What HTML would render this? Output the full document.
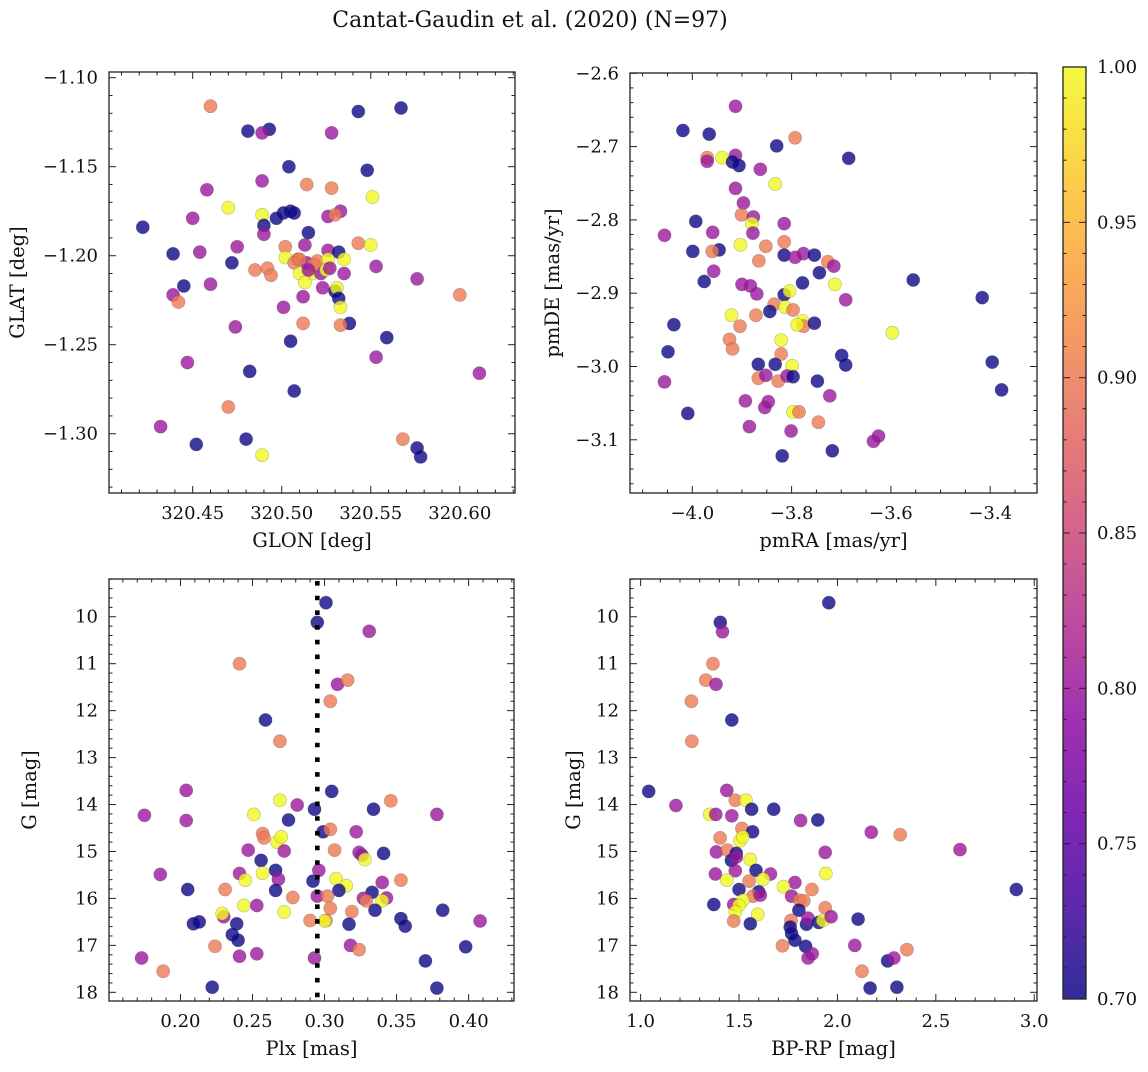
<!DOCTYPE html>
<html><head><meta charset="utf-8">
<style>
html,body{margin:0;padding:0;background:#fff;}
svg text{font-family:"DejaVu Serif","Liberation Serif",serif;fill:#111;}
</style></head>
<body>
<svg id="fig" width="1148" height="1067" viewBox="0 0 1148 1067" xmlns="http://www.w3.org/2000/svg">
<rect width="1148" height="1067" fill="#fff"/>
<text x="530" y="27" font-size="22" text-anchor="middle">Cantat-Gaudin et al. (2020) (N=97)</text>
<defs>
<linearGradient id="plasma" x1="0" y1="1" x2="0" y2="0">
<stop offset="0" stop-color="#0d0887"/><stop offset="0.1" stop-color="#41049d"/><stop offset="0.2" stop-color="#6a00a8"/><stop offset="0.3" stop-color="#8f0da4"/><stop offset="0.4" stop-color="#b12a90"/><stop offset="0.5" stop-color="#cc4778"/><stop offset="0.6" stop-color="#e16462"/><stop offset="0.7" stop-color="#f2844b"/><stop offset="0.8" stop-color="#fca636"/><stop offset="0.9" stop-color="#fcce25"/><stop offset="1" stop-color="#f0f921"/>
</linearGradient>
</defs>
</svg>
<script>
// ---- Panel 1: GLON vs GLAT ----
const glonX=[320.460,320.543,320.567,320.481,320.493,320.489,320.528,320.504,320.548,320.489,320.514,320.528,320.458,320.551,320.470,320.450,320.489,320.505,320.501,320.507,320.497,320.526,320.533,320.530,320.422,320.490,320.490,320.515,320.475,320.502,320.513,320.543,320.550,320.439,320.454,320.526,320.532,320.502,320.509,320.507,320.514,320.520,320.526,320.535,320.472,320.485,320.492,320.494,320.510,320.517,320.522,320.525,320.535,320.553,320.576,320.445,320.460,320.513,320.523,320.530,320.531,320.532,320.439,320.442,320.600,320.512,320.533,320.501,320.512,320.538,320.533,320.474,320.559,320.505,320.553,320.447,320.482,320.611,320.507,320.470,320.432,320.480,320.568,320.452,320.489,320.576,320.578,320.510,320.518,320.527,320.515];
const glatY=[-1.116,-1.119,-1.117,-1.130,-1.129,-1.131,-1.131,-1.150,-1.152,-1.158,-1.160,-1.162,-1.163,-1.167,-1.173,-1.179,-1.177,-1.175,-1.176,-1.176,-1.179,-1.178,-1.175,-1.177,-1.184,-1.183,-1.188,-1.187,-1.195,-1.195,-1.194,-1.193,-1.194,-1.199,-1.198,-1.197,-1.198,-1.201,-1.202,-1.204,-1.204,-1.203,-1.202,-1.202,-1.204,-1.208,-1.207,-1.211,-1.210,-1.210,-1.210,-1.208,-1.210,-1.206,-1.213,-1.217,-1.216,-1.215,-1.218,-1.220,-1.218,-1.224,-1.222,-1.226,-1.222,-1.223,-1.229,-1.229,-1.238,-1.238,-1.239,-1.240,-1.246,-1.248,-1.257,-1.260,-1.265,-1.266,-1.276,-1.285,-1.296,-1.303,-1.303,-1.306,-1.312,-1.308,-1.313,-1.202,-1.205,-1.207,-1.208];
const glonC=[0.9,0.7,0.7,0.7,0.7,0.8,0.8,0.7,0.7,0.8,0.9,0.9,0.8,1.0,1.0,0.8,1.0,0.7,0.7,0.7,0.7,0.8,0.8,0.9,0.7,0.7,0.8,0.7,0.8,0.9,0.8,0.9,1.0,0.7,0.8,0.8,0.7,1.0,0.9,0.9,0.8,0.9,1.0,1.0,0.7,0.9,0.9,0.9,1.0,1.0,0.8,1.0,0.8,0.8,0.8,0.7,0.8,1.0,0.8,0.7,1.0,0.7,0.8,0.9,0.9,0.8,1.0,0.8,0.9,0.7,0.9,0.8,0.7,0.7,0.8,0.8,0.7,0.8,0.7,0.9,0.8,0.7,0.9,0.7,1.0,0.7,0.7,0.9,0.9,0.8,0.8];
const glonTicks=[320.45,320.50,320.55,320.60];
const glatTicks=[-1.30,-1.25,-1.20,-1.15,-1.10];

// ---- Panel 2: pmRA vs pmDE ----
const pmraX=[-3.913,-4.019,-3.966,-3.830,-3.793,-3.685,-3.970,-3.970,-3.940,-3.913,-3.919,-3.906,-3.863,-3.833,-3.913,-3.897,-3.901,-3.877,-3.880,-3.878,-3.993,-4.056,-3.959,-3.903,-3.852,-3.815,-3.815,-3.999,-3.946,-3.960,-3.866,-3.815,-3.793,-3.776,-3.754,-3.727,-3.715,-3.744,-3.957,-3.976,-3.778,-3.713,-3.555,-3.900,-3.883,-3.870,-3.815,-3.804,-3.691,-3.416,-3.835,-3.844,-3.813,-3.797,-3.921,-3.872,-3.778,-3.776,-3.789,-3.754,-3.904,-4.037,-3.597,-3.925,-3.919,-3.821,-4.049,-3.821,-3.699,-3.691,-3.396,-3.867,-3.833,-3.799,-3.377,-4.056,-3.867,-3.852,-3.827,-3.809,-3.797,-3.748,-4.009,-3.893,-3.847,-3.854,-3.797,-3.785,-3.746,-3.723,-3.885,-3.801,-3.625,-3.635,-3.819,-3.718];
const pmdeY=[-2.645,-2.678,-2.683,-2.699,-2.688,-2.716,-2.715,-2.720,-2.715,-2.712,-2.721,-2.726,-2.731,-2.751,-2.757,-2.777,-2.793,-2.796,-2.805,-2.818,-2.802,-2.821,-2.817,-2.834,-2.836,-2.805,-2.830,-2.843,-2.841,-2.843,-2.856,-2.848,-2.851,-2.846,-2.848,-2.857,-2.863,-2.872,-2.870,-2.884,-2.886,-2.888,-2.882,-2.888,-2.890,-2.901,-2.902,-2.897,-2.909,-2.906,-2.915,-2.925,-2.919,-2.923,-2.930,-2.930,-2.938,-2.945,-2.943,-2.941,-2.945,-2.943,-2.954,-2.963,-2.976,-2.964,-2.980,-2.983,-2.985,-2.998,-2.994,-2.997,-2.997,-2.999,-3.032,-3.021,-3.016,-3.012,-3.020,-3.013,-3.014,-3.020,-3.064,-3.047,-3.048,-3.056,-3.062,-3.062,-3.076,-3.040,-3.082,-3.088,-3.095,-3.102,-3.122,-3.115];
const pmC=[0.8,0.7,0.7,0.7,0.9,0.7,0.9,0.8,1.0,0.8,0.7,0.7,0.8,1.0,0.8,0.8,0.9,0.8,1.0,0.8,0.7,0.8,0.8,1.0,0.9,0.8,0.9,0.7,0.7,0.9,0.9,0.7,0.8,0.8,0.7,0.9,0.8,0.7,0.8,0.7,0.7,1.0,0.7,0.8,0.8,0.8,0.7,1.0,0.8,0.7,0.9,0.7,1.0,0.9,1.0,0.9,1.0,0.9,1.0,0.7,0.9,0.7,1.0,0.9,0.9,1.0,0.7,0.9,0.7,0.7,0.7,0.7,0.7,1.0,0.7,0.8,0.9,0.8,0.9,0.8,0.7,0.7,0.7,0.8,0.8,0.8,1.0,0.9,0.9,0.8,0.8,0.8,0.8,0.8,0.7,0.7];
const pmraTicks=[-4.0,-3.8,-3.6,-3.4];
const pmdeTicks=[-3.1,-3.0,-2.9,-2.8,-2.7,-2.6];

// ---- Panel 3: Plx vs G ----
const plxX=[0.301,0.295,0.331,0.241,0.309,0.316,0.304,0.259,0.269,0.204,0.305,0.269,0.346,0.281,0.293,0.334,0.175,0.378,0.251,0.204,0.275,0.299,0.304,0.322,0.257,0.258,0.267,0.270,0.247,0.272,0.307,0.324,0.326,0.328,0.341,0.256,0.186,0.241,0.257,0.266,0.268,0.245,0.292,0.296,0.308,0.315,0.310,0.340,0.353,0.205,0.231,0.266,0.278,0.295,0.302,0.333,0.327,0.329,0.343,0.340,0.335,0.244,0.253,0.304,0.319,0.272,0.382,0.230,0.229,0.209,0.213,0.239,0.290,0.301,0.300,0.317,0.353,0.356,0.408,0.236,0.240,0.224,0.318,0.324,0.398,0.241,0.253,0.293,0.173,0.370,0.188,0.222,0.378];
const plxG=[9.70,10.12,10.31,11.00,11.44,11.35,11.80,12.20,12.65,13.70,13.72,13.91,13.92,14.01,14.10,14.10,14.23,14.21,14.21,14.34,14.33,14.58,14.53,14.58,14.62,14.71,14.80,14.69,14.97,14.99,14.97,15.02,15.08,15.17,15.04,15.19,15.49,15.47,15.46,15.40,15.59,15.61,15.63,15.40,15.58,15.73,15.83,15.66,15.61,15.81,15.81,15.83,15.98,15.95,15.95,15.87,16.00,16.05,15.99,16.05,16.25,16.15,16.15,16.21,16.28,16.29,16.25,16.39,16.32,16.54,16.50,16.54,16.47,16.47,16.48,16.55,16.43,16.59,16.48,16.77,16.89,17.02,17.00,17.09,17.03,17.23,17.18,17.27,17.27,17.33,17.55,17.89,17.91];
const plxC=[0.7,0.7,0.8,0.9,0.8,0.9,0.9,0.7,0.9,0.8,0.7,1.0,0.9,0.8,0.7,0.7,0.8,0.8,1.0,0.8,0.7,0.7,0.9,0.8,0.9,0.9,1.0,1.0,0.8,0.8,0.9,0.8,0.8,1.0,0.7,0.7,0.8,0.8,1.0,0.7,0.8,1.0,0.7,0.8,1.0,1.0,0.7,0.8,0.9,0.7,0.9,0.7,0.9,0.8,0.9,0.7,0.8,0.9,0.8,1.0,0.7,1.0,0.8,0.9,0.9,1.0,0.7,0.8,1.0,0.7,0.7,0.7,0.9,0.9,1.0,0.7,0.7,0.7,0.8,0.7,0.7,0.9,0.8,0.9,0.7,0.8,0.8,0.8,0.8,0.7,0.9,0.7,0.7];
const plxRef=[0.295];
const plxTicks=[0.20,0.25,0.30,0.35,0.40];
const magTicks=[10,11,12,13,14,15,16,17,18];

// ---- Panel 4: BP-RP vs G ----
const bprpX=[1.956,1.405,1.416,1.367,1.331,1.383,1.258,1.463,1.260,1.041,1.179,1.438,1.481,1.535,1.351,1.382,1.463,1.564,1.676,1.813,1.900,1.515,1.569,2.172,2.319,1.404,1.505,1.519,1.385,1.441,1.486,1.938,2.623,1.461,1.486,1.557,1.380,1.481,1.586,1.660,1.941,1.438,1.551,1.623,1.784,1.726,1.870,2.909,1.500,1.600,1.571,1.608,1.767,1.809,1.829,1.372,1.473,1.520,1.500,1.804,1.938,1.481,1.595,1.557,1.473,1.764,1.843,1.850,1.905,1.926,1.968,2.105,1.760,1.767,1.784,1.721,1.838,2.088,2.353,1.851,1.872,2.255,2.287,2.125,2.166,2.302];
const bprpG=[9.70,10.12,10.32,11.00,11.35,11.44,11.80,12.20,12.65,13.72,14.02,13.70,13.91,13.91,14.21,14.21,14.24,14.10,14.10,14.34,14.33,14.51,14.58,14.59,14.64,14.71,14.77,14.69,15.01,14.97,15.04,15.02,14.96,15.19,15.12,15.17,15.48,15.41,15.40,15.48,15.47,15.61,15.63,15.59,15.66,15.75,15.81,15.81,15.81,15.86,15.95,15.93,15.95,16.04,16.05,16.13,16.13,16.04,16.15,16.25,16.20,16.29,16.34,16.54,16.48,16.47,16.55,16.42,16.51,16.47,16.39,16.44,16.61,16.75,16.89,17.01,17.02,17.00,17.09,17.27,17.18,17.33,17.27,17.55,17.91,17.89];
const bprpC=[0.7,0.7,0.8,0.9,0.9,0.8,0.9,0.7,0.9,0.7,0.8,0.8,0.9,1.0,1.0,0.8,0.8,0.7,0.7,0.8,0.7,0.9,0.7,0.8,0.9,0.9,1.0,1.0,0.8,0.9,0.7,0.8,0.8,0.7,0.8,1.0,0.8,0.8,0.7,0.8,1.0,1.0,0.9,1.0,0.8,1.0,0.9,0.7,0.7,0.7,0.9,0.8,0.8,0.9,0.9,0.7,0.8,1.0,1.0,0.7,0.9,1.0,1.0,0.7,0.9,0.9,0.7,0.8,0.7,1.0,0.8,0.7,0.7,0.7,0.7,0.9,0.7,0.8,0.9,0.8,0.8,0.7,0.8,0.9,0.7,0.7];
const bprpTicks=[1.0,1.5,2.0,2.5,3.0];

// ---- Colorbar ----
const cbTicks=[0.70,0.75,0.80,0.85,0.90,0.95,1.00];
const cbMin=0.70, cbMax=1.00;

const NS='http://www.w3.org/2000/svg';
const fig=document.getElementById('fig');
function mk(tag,attrs,parent){const e=document.createElementNS(NS,tag);for(const k in attrs)e.setAttribute(k,attrs[k]);(parent||fig).appendChild(e);return e;}
const stops=[[13,8,135],[65,4,157],[106,0,168],[143,13,164],[177,42,144],[204,71,120],[225,100,98],[242,132,75],[252,166,54],[252,206,37],[240,249,33]];
function plasma(v){let t=(v-cbMin)/(cbMax-cbMin);t=Math.max(0,Math.min(1,t));const f=t*10;const i=Math.min(9,Math.floor(f));const r=f-i;const a=stops[i],b=stops[i+1];return 'rgb('+a.map((c,k)=>Math.round(c+(b[k]-c)*r)).join(',')+')';}
function fmt(v,d){const s=Math.abs(v).toFixed(d);return (v<-1e-9?'\u2212':'')+s;}

function panel(o){
  const g=mk('g',{});
  
  
  const W=o.r-o.l,H=o.b-o.t;
  const sx=v=>o.l+(v-o.x0)/(o.x1-o.x0)*W;
  const sy=v=>o.t+(v-o.yTop)/(o.yBot-o.yTop)*H;
  const pg=mk('g',{},g);
  
  
  for(let i=0;i<o.xs.length;i++){
    const c=mk('circle',{cx:sx(o.xs[i]).toFixed(1),cy:sy(o.ys[i]).toFixed(1),r:6.6,fill:plasma(o.cs[i]),'fill-opacity':0.8,stroke:'#444','stroke-opacity':0.35,'stroke-width':0.6},pg);
    
    
  }
  if(o.vline){for(const v of o.vline){const ln=mk('line',{x1:sx(v),x2:sx(v),y1:o.t+2,y2:o.b,stroke:'#000','stroke-width':4.6,'stroke-dasharray':'4.6 10.1'},g);
    
    }}
  const fr=mk('rect',{x:o.l,y:o.t,width:W,height:H,fill:'none',stroke:'#222','stroke-width':1.3},g);
  
  
  const tg=mk('g',{stroke:'#222','stroke-width':1},g);
  const xmin=Math.min(o.x0,o.x1),xmax=Math.max(o.x0,o.x1);
  for(let k=Math.ceil(xmin/o.xm-1e-9);k*o.xm<=xmax+1e-9;k++){const v=k*o.xm,x=sx(v);
    const maj=o.xt.some(t=>Math.abs(t-v)<o.xm/10)||Math.abs(v/o.xM-Math.round(v/o.xM))<1e-6;const L=maj?7:3.5;
    mk('line',{x1:x,x2:x,y1:o.b,y2:o.b-L},tg);mk('line',{x1:x,x2:x,y1:o.t,y2:o.t+L},tg);}
  const ymin=Math.min(o.yTop,o.yBot),ymax=Math.max(o.yTop,o.yBot);
  for(let k=Math.ceil(ymin/o.ym-1e-9);k*o.ym<=ymax+1e-9;k++){const v=k*o.ym,y=sy(v);
    const maj=Math.abs(v/o.yM-Math.round(v/o.yM))<1e-6;const L=maj?7:3.5;
    mk('line',{x1:o.l,x2:o.l+L,y1:y,y2:y},tg);mk('line',{x1:o.r,x2:o.r-L,y1:y,y2:y},tg);}
  for(const v of o.xt){const t=mk('text',{x:sx(v),y:o.b+26,'font-size':18,'text-anchor':'middle'},g);t.textContent=fmt(v,o.xd);
    
    }
  for(const v of o.yt){const t=mk('text',{x:o.l-11,y:sy(v)+6,'font-size':18,'text-anchor':'end'},g);t.textContent=fmt(v,o.yd);
    
    }
  const xl=mk('text',{x:(o.l+o.r)/2,y:o.b+54,'font-size':19.5,'text-anchor':'middle'},g);xl.textContent=o.xlab;
  
  
  const yx=o.ylx,yc=(o.t+o.b)/2;
  const yl=mk('text',{x:yx,y:yc,'font-size':19.5,'text-anchor':'middle',transform:'rotate(-90 '+yx+' '+yc+')'},g);yl.textContent=o.ylab;
  
  
}

panel({name:'glon-glat-panel',l:109,r:515,t:72,b:493,x0:320.403,x1:320.631,yTop:-1.0968,yBot:-1.3333,xm:0.01,xM:0.05,ym:0.01,yM:0.05,xt:glonTicks,yt:glatTicks,xd:2,yd:2,xs:glonX,ys:glatY,cs:glonC,xlab:'GLON [deg]',ylab:'GLAT [deg]',ylx:24});
panel({name:'pm-panel',l:630,r:1037,t:73,b:493,x0:-4.1255,x1:-3.3057,yTop:-2.5996,yBot:-3.1726,xm:0.05,xM:0.2,ym:0.02,yM:0.1,xt:pmraTicks,yt:pmdeTicks,xd:1,yd:1,xs:pmraX,ys:pmdeY,cs:pmC,xlab:'pmRA [mas/yr]',ylab:'pmDE [mas/yr]',ylx:559});
panel({name:'plx-g-panel',l:109,r:514,t:579,b:1001,x0:0.1504,x1:0.4315,yTop:9.196,yBot:18.185,xm:0.01,xM:0.05,ym:0.2,yM:1,xt:plxTicks,yt:magTicks,xd:2,yd:0,xs:plxX,ys:plxG,cs:plxC,xlab:'Plx [mas]',ylab:'G [mag]',ylx:36,vline:plxRef});
panel({name:'cmd-panel',l:630,r:1037,t:579,b:1001,x0:0.946,x1:3.014,yTop:9.196,yBot:18.185,xm:0.1,xM:0.5,ym:0.2,yM:1,xt:bprpTicks,yt:magTicks,xd:1,yd:0,xs:bprpX,ys:bprpG,cs:bprpC,xlab:'BP-RP [mag]',ylab:'G [mag]',ylx:580});

(function(){
  const l=1063,r=1086,t=67,b=999;
  const g=mk('g',{});
  
  
  mk('rect',{x:l,y:t,width:r-l,height:b-t,fill:'url(#plasma)','fill-opacity':0.85},g);
  mk('rect',{x:l,y:t,width:r-l,height:b-t,fill:'none',stroke:'#222','stroke-width':1.3},g);
  const sy=v=>b-(v-cbMin)/(cbMax-cbMin)*(b-t);
  for(let k=70;k<=100;k++){const v=k/100,y=sy(v);const maj=k%5===0;const L=maj?7:3.5;
    mk('line',{x1:r,x2:r-L,y1:y,y2:y,stroke:'#222','stroke-width':1},g);mk('line',{x1:l,x2:l+L,y1:y,y2:y,stroke:'#222','stroke-width':1},g);}
  for(const v of cbTicks){const tx=mk('text',{x:r+11,y:sy(v)+6,'font-size':18},g);tx.textContent=v.toFixed(2);
    
    }
})();
</script>
</body></html>
